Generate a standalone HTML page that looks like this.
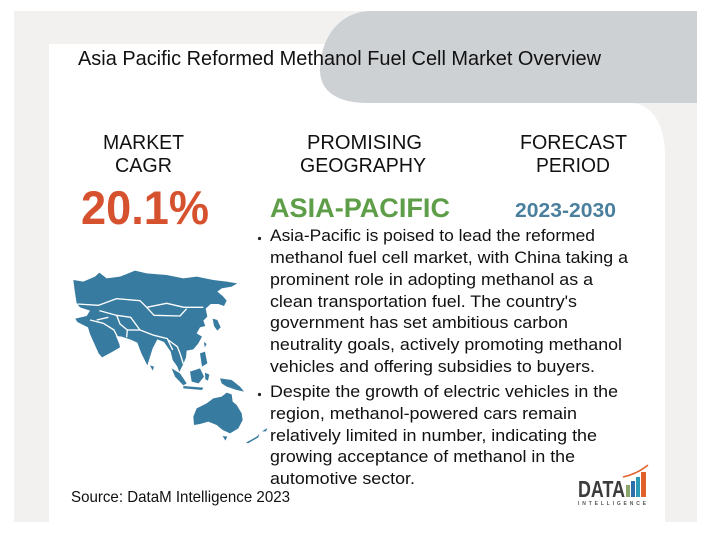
<!DOCTYPE html>
<html><head><meta charset="utf-8"><style>
html,body{margin:0;padding:0;background:#fff;}
svg{display:block;}
text{font-family:"Liberation Sans",Arial,sans-serif;}
</style></head><body>
<svg width="719" height="542" viewBox="0 0 719 542" xmlns="http://www.w3.org/2000/svg">
<rect x="0" y="0" width="719" height="542" fill="#ffffff"/>
<rect x="14" y="11" width="683" height="511" fill="#F2F1EF"/>
<path d="M49,44 H630 V103 C652,103 665,125 665,155 V522 H49 Z" fill="#ffffff"/>
<path d="M697,11 L372,11 C338,11 320,40 320,70 C320,92 338,103 368,103 L697,103 Z" fill="#CED1D4"/>

<text x="78" y="65" font-size="20.5" fill="#111" textLength="523" lengthAdjust="spacingAndGlyphs">Asia Pacific  Reformed Methanol Fuel Cell  Market Overview</text>

<text x="103" y="149" font-size="20" fill="#111" textLength="81" lengthAdjust="spacingAndGlyphs">MARKET</text>
<text x="115" y="172" font-size="20" fill="#111" textLength="57" lengthAdjust="spacingAndGlyphs">CAGR</text>
<text x="307" y="149" font-size="20" fill="#111" textLength="115" lengthAdjust="spacingAndGlyphs">PROMISING</text>
<text x="300" y="172" font-size="20" fill="#111" textLength="126" lengthAdjust="spacingAndGlyphs">GEOGRAPHY</text>
<text x="520" y="149" font-size="20" fill="#111" textLength="107" lengthAdjust="spacingAndGlyphs">FORECAST</text>
<text x="536" y="172" font-size="20" fill="#111" textLength="74" lengthAdjust="spacingAndGlyphs">PERIOD</text>

<text x="81" y="224" font-size="47" font-weight="bold" fill="#D6522F" textLength="128" lengthAdjust="spacingAndGlyphs">20.1%</text>
<text x="270" y="217" font-size="26.5" font-weight="bold" fill="#5E9E48" textLength="180" lengthAdjust="spacingAndGlyphs">ASIA-PACIFIC</text>
<text x="515" y="217" font-size="20.5" font-weight="bold" fill="#4B7F9E" textLength="101" lengthAdjust="spacingAndGlyphs">2023-2030</text>

<circle cx="259.5" cy="238.5" r="1.6" fill="#222"/>
<g font-size="17" fill="#111">
<text x="270" y="241" textLength="325" lengthAdjust="spacingAndGlyphs">Asia-Pacific is poised to lead the reformed</text>
<text x="270" y="263" textLength="358" lengthAdjust="spacingAndGlyphs">methanol fuel cell market, with China taking a</text>
<text x="270" y="285" textLength="323" lengthAdjust="spacingAndGlyphs">prominent role in adopting methanol as a</text>
<text x="270" y="307" textLength="307" lengthAdjust="spacingAndGlyphs">clean transportation fuel. The country's</text>
<text x="270" y="328" textLength="298" lengthAdjust="spacingAndGlyphs">government has set ambitious carbon</text>
<text x="270" y="350" textLength="352" lengthAdjust="spacingAndGlyphs">neutrality goals, actively promoting methanol</text>
<text x="270" y="372" textLength="325" lengthAdjust="spacingAndGlyphs">vehicles and offering subsidies to buyers.</text>
</g>
<circle cx="259.5" cy="394.5" r="1.6" fill="#222"/>
<g font-size="17" fill="#111">
<text x="270" y="397" textLength="348" lengthAdjust="spacingAndGlyphs">Despite the growth of electric vehicles in the</text>
<text x="270" y="419" textLength="307" lengthAdjust="spacingAndGlyphs">region, methanol-powered cars remain</text>
<text x="270" y="441" textLength="327" lengthAdjust="spacingAndGlyphs">relatively limited in number, indicating the</text>
<text x="270" y="462" textLength="305" lengthAdjust="spacingAndGlyphs">growing acceptance of methanol in the</text>
<text x="270" y="484" textLength="145" lengthAdjust="spacingAndGlyphs">automotive sector.</text>
</g>

<text x="71" y="502" font-size="16" fill="#111" textLength="219" lengthAdjust="spacingAndGlyphs">Source: DataM Intelligence  2023</text>

<!-- logo -->
<text x="578" y="497" font-size="23" font-weight="bold" fill="#3C3C3C" textLength="47" lengthAdjust="spacingAndGlyphs">DATA</text>
<rect x="626" y="485" width="4" height="12" fill="#8BA66A"/>
<rect x="631" y="481" width="4" height="16" fill="#2F6FA8"/>
<rect x="636" y="477" width="4" height="20" fill="#2C9BB5"/>
<rect x="641" y="472" width="5" height="25" fill="#E0622A"/>
<path d="M623,477 Q637,474 648,465" stroke="#E0622A" stroke-width="1.5" fill="none"/>
<text x="578" y="505" font-size="5" font-weight="bold" fill="#555" textLength="68" lengthAdjust="spacing">INTELLIGENCE</text>

<!-- map -->
<g transform="translate(40,220) scale(0.33333)" fill="#387BA0">
<path d="M100,180 L130,185 L165,170 L178,158 L200,175 L240,170 L285,152 L320,160 L380,165 L430,175 L470,170 L520,180 L560,185 L592,190 L575,200 L545,205 L532,215 L548,228 L560,242 L552,258 L535,252 L512,252 L497,266 L502,290 L490,302 L496,318 L480,322 L470,340 L486,350 L475,370 L460,388 L440,392 L438,412 L430,432 L418,456 L412,440 L398,420 L392,395 L372,366 L352,358 L338,385 L322,436 L304,400 L292,368 L270,358 L245,350 L228,348 L238,372 L240,382 L216,396 L186,412 L176,400 L166,378 L150,342 L144,322 L112,306 L106,296 L140,288 L150,272 L120,262 L110,250 L104,212 Z"/>
<path d="M518,296 L532,300 L542,322 L532,332 L522,318 Z"/>
<path d="M492,366 L500,372 L494,382 Z"/>
<path d="M480,400 L495,395 L502,430 L486,440 Z"/>
<path d="M330,436 L342,440 L338,452 Z"/>
<path d="M395,445 L420,460 L440,490 L430,496 L405,470 Z"/>
<path d="M450,455 L480,445 L492,470 L476,490 L455,485 Z"/>
<path d="M495,458 L508,464 L504,482 L496,478 Z"/>
<path d="M430,498 L490,503 L486,510 L430,505 Z"/>
<path d="M540,475 L575,480 L600,500 L612,515 L590,510 L560,500 L545,490 Z"/>
<path d="M460,590 L470,565 L500,550 L520,535 L545,530 L560,518 L575,523 L578,545 L590,555 L605,580 L608,600 L595,625 L570,640 L548,630 L530,615 L505,605 L480,612 L462,615 Z"/>
<path d="M548,648 L562,650 L556,662 Z"/>
<path d="M618,668 L650,650 L658,642 L655,652 L624,670 Z"/>
<path d="M666,634 L682,624 L678,634 Z"/>
</g>
<g transform="translate(40,220) scale(0.33333)" fill="none" stroke="#ffffff" stroke-width="4" stroke-linejoin="round">
<polyline points="112,252 175,256 230,236 300,242 320,262 380,250 432,262 490,262"/>
<polyline points="320,262 342,286 420,288 440,266"/>
<polyline points="178,272 230,286 272,292 300,330 342,346 382,356 398,390"/>
<polyline points="230,286 240,312 262,330 260,352"/>
<polyline points="150,300 190,310 222,330 232,350"/>
<polyline points="262,330 300,330"/>
<polyline points="385,360 412,380 420,400 430,432"/>
<polyline points="170,300 205,292"/>
</g>
</svg>
</body></html>
